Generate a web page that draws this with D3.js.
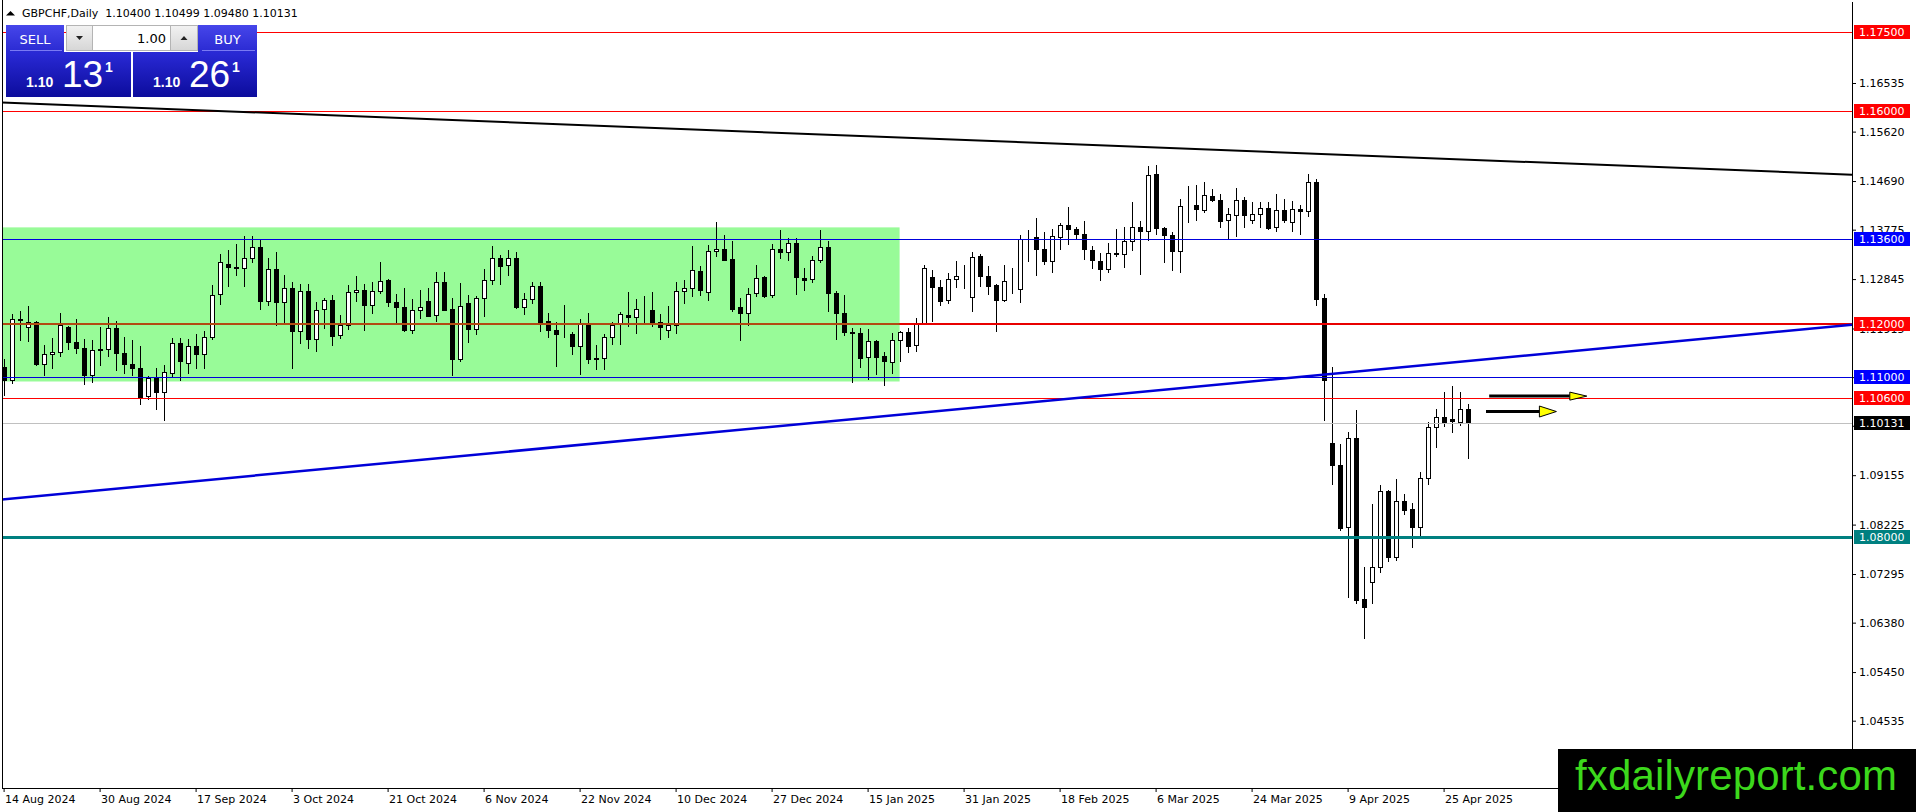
<!DOCTYPE html>
<html>
<head>
<meta charset="utf-8">
<title>GBPCHF,Daily</title>
<script src="https://cdn.jsdelivr.net/npm/d3@7"></script>
<style>
  html, body { margin: 0; padding: 0; background: #fff; overflow: hidden; }
  svg { display: block; }
</style>
</head>
<body>
<script>
const width = 1916;
const height = 812;
const plotLeft = 2, plotRight = 1852, plotBottom = 788;

// one bar per trading day, bar 0 = 14 Aug 2024, last bar = 30 Apr 2025
const opens = [
  1.11200,1.10949,1.12092,1.11941,1.12036,1.11244,1.11433,1.11470,1.11948,1.11665,
  1.11552,1.11037,1.11508,1.11527,1.11929,1.11452,1.11251,1.11175,1.10654,1.10993,
  1.10711,1.11087,1.11646,1.11257,1.11590,1.11433,1.11753,1.12563,1.13135,1.13072,
  1.13053,1.13241,1.13449,1.12425,1.13034,1.12412,1.12676,1.11860,1.12626,1.11709,
  1.12281,1.12456,1.11784,1.11979,1.12601,1.12639,1.12362,1.12620,1.12833,1.12412,
  1.12318,1.11885,1.12268,1.12438,1.12168,1.12789,1.12281,1.11332,1.12394,1.11904,
  1.12482,1.12827,1.13241,1.13110,1.13241,1.12318,1.12469,1.12714,1.12054,1.11891,
  1.11815,1.11810,1.11584,1.12017,1.11357,1.11351,1.11753,1.11998,1.12168,1.12130,
  1.12268,1.12268,1.12036,1.11885,1.11979,1.12626,1.12670,1.13003,1.12601,1.13373,
  1.13411,1.13229,1.12318,1.12205,1.12581,1.12876,1.12537,1.13410,1.13354,1.13523,
  1.12870,1.12845,1.13197,1.13448,1.12581,1.12205,1.11847,1.11828,1.11376,1.11671,
  1.11401,1.11281,1.11696,1.11847,1.11602,1.12016,1.12889,1.12701,1.12449,1.12845,
  1.12902,1.12506,1.13285,1.12908,1.12726,1.12443,1.12663,1.12657,1.13612,1.13637,
  1.13417,1.13178,1.13637,1.13862,1.13793,1.13699,1.13398,1.13190,1.13034,1.13329,
  1.13322,1.13561,1.13825,1.13743,1.14830,1.13806,1.13674,1.13373,1.14220,1.14239,
  1.14151,1.14402,1.14333,1.13950,1.14044,1.14327,1.13950,1.14070,1.14183,1.13818,
  1.14145,1.13919,1.14164,1.14120,1.14679,1.12487,1.09755,1.09347,1.08173,1.09850,
  1.06829,1.07137,1.07420,1.08864,1.07620,1.08675,1.08512,1.08185,1.09096,1.10057,
  1.10258,1.10208,1.10164,1.10400
];
const highs = [
  1.11339,1.12186,1.12249,1.12337,1.12048,1.11609,1.11740,1.12205,1.11960,1.12098,
  1.11709,1.11697,1.11941,1.12130,1.12055,1.11759,1.11703,1.11577,1.11013,1.11175,
  1.11232,1.11740,1.11734,1.11709,1.11810,1.11866,1.12733,1.13317,1.13392,1.13505,
  1.13650,1.13662,1.13587,1.13241,1.13354,1.12927,1.12796,1.12745,1.12758,1.12412,
  1.12488,1.12551,1.12174,1.12739,1.12909,1.12752,1.12783,1.13172,1.12846,1.12563,
  1.12676,1.12469,1.12645,1.12670,1.12984,1.12978,1.12488,1.12777,1.12551,1.12525,
  1.13034,1.13474,1.13304,1.13386,1.13361,1.12583,1.12789,1.12789,1.12205,1.12029,
  1.12356,1.11847,1.12092,1.12205,1.11602,1.11803,1.12029,1.12230,1.12607,1.12475,
  1.12532,1.12607,1.12193,1.12331,1.12783,1.12821,1.13461,1.13084,1.13480,1.13926,
  1.13681,1.13568,1.12488,1.12676,1.13109,1.12908,1.13504,1.13762,1.13618,1.13618,
  1.13052,1.13285,1.13762,1.13555,1.12625,1.12550,1.11922,1.11922,1.11903,1.11702,
  1.11476,1.11828,1.11872,1.11934,1.12110,1.13115,1.13021,1.12832,1.12958,1.13178,
  1.13115,1.13347,1.13322,1.13084,1.12757,1.13109,1.13052,1.13668,1.13775,1.13994,
  1.13731,1.13787,1.13900,1.14202,1.13825,1.13931,1.13473,1.13335,1.13523,1.13787,
  1.13825,1.14289,1.13944,1.14968,1.15000,1.13825,1.13731,1.14352,1.14603,1.14622,
  1.14666,1.14547,1.14453,1.14183,1.14559,1.14390,1.14289,1.14289,1.14289,1.14453,
  1.14352,1.14308,1.14239,1.14830,1.14735,1.12569,1.11187,1.09743,1.09975,1.10383,
  1.07432,1.08612,1.08970,1.08876,1.09077,1.08801,1.08637,1.09209,1.10151,1.10396,
  1.10716,1.10836,1.10716,1.10499
];
const lows = [
  1.10667,1.10886,1.11703,1.11671,1.11232,1.11031,1.11163,1.11389,1.11527,1.11445,
  1.10868,1.10912,1.11232,1.11389,1.11138,1.11075,1.11037,1.10503,1.10585,1.10409,
  1.10196,1.11000,1.10937,1.11087,1.11163,1.11163,1.11709,1.12369,1.12720,1.12927,
  1.12720,1.13160,1.12281,1.12350,1.11979,1.12017,1.11163,1.11634,1.11540,1.11483,
  1.11916,1.11596,1.11728,1.11904,1.12438,1.11879,1.12212,1.12583,1.12331,1.12036,
  1.11866,1.11822,1.12117,1.12143,1.12061,1.12255,1.11031,1.11295,1.11653,1.11810,
  1.12143,1.12745,1.12745,1.12927,1.12300,1.12193,1.12394,1.11860,1.11753,1.11219,
  1.11753,1.11427,1.11056,1.11263,1.11150,1.11150,1.11615,1.11615,1.11955,1.11835,
  1.12017,1.11955,1.11715,1.11747,1.11835,1.12400,1.12532,1.12551,1.12456,1.13285,
  1.13197,1.12237,1.11690,1.11985,1.12518,1.12506,1.12506,1.13241,1.13209,1.12562,
  1.12632,1.12782,1.13159,1.12236,1.11715,1.11784,1.10905,1.11200,1.10974,1.11055,
  1.10854,1.11087,1.11313,1.11482,1.11501,1.11997,1.12048,1.12349,1.12393,1.12688,
  1.12676,1.12236,1.12707,1.12569,1.11872,1.12424,1.12581,1.12406,1.13178,1.12914,
  1.13134,1.12977,1.13417,1.13511,1.13599,1.13228,1.13052,1.12820,1.12971,1.13272,
  1.13065,1.13385,1.12946,1.13586,1.13693,1.13159,1.13008,1.12971,1.13913,1.13963,
  1.14101,1.14308,1.13818,1.13605,1.13649,1.13818,1.13900,1.13825,1.13787,1.13743,
  1.13913,1.13743,1.13693,1.14026,1.12349,1.10195,1.08989,1.08123,1.06854,1.06754,
  1.06100,1.06741,1.07325,1.07545,1.07557,1.08424,1.07796,1.07984,1.08989,1.09693,
  1.10088,1.09975,1.10101,1.09480
];
const closes = [
  1.10949,1.12092,1.12067,1.12036,1.11244,1.11433,1.11470,1.11979,1.11659,1.11540,
  1.11031,1.11508,1.11527,1.11929,1.11445,1.11244,1.11163,1.10616,1.10987,1.10711,
  1.11094,1.11640,1.11295,1.11590,1.11433,1.11759,1.12544,1.13166,1.13072,1.13053,
  1.13241,1.13449,1.12425,1.13034,1.12406,1.12676,1.11860,1.12626,1.11709,1.12268,
  1.12456,1.11766,1.11979,1.12601,1.12639,1.12350,1.12620,1.12814,1.12406,1.12312,
  1.11879,1.12262,1.12312,1.12155,1.12789,1.12268,1.11332,1.12331,1.11898,1.12482,
  1.12827,1.13241,1.13084,1.13241,1.12318,1.12469,1.12714,1.12017,1.11879,1.11810,
  1.11810,1.11577,1.11998,1.11332,1.11339,1.11753,1.11979,1.12186,1.12130,1.12287,
  1.12268,1.12029,1.11935,1.11979,1.12620,1.12676,1.13015,1.12645,1.13380,1.13411,
  1.13210,1.12287,1.12199,1.12570,1.12864,1.12518,1.13410,1.13354,1.13523,1.12883,
  1.12832,1.13197,1.13448,1.12581,1.12205,1.11847,1.11828,1.11369,1.11671,1.11388,
  1.11313,1.11702,1.11847,1.11595,1.12016,1.13052,1.12688,1.12424,1.12845,1.12902,
  1.12908,1.13259,1.12895,1.12707,1.12443,1.12807,1.12657,1.13605,1.13618,1.13404,
  1.13178,1.13655,1.13862,1.13787,1.13693,1.13404,1.13197,1.13027,1.13329,1.13322,
  1.13561,1.13818,1.13743,1.14811,1.13800,1.13668,1.13366,1.14220,1.14227,1.14158,
  1.14428,1.14327,1.13931,1.14063,1.14327,1.14044,1.14070,1.14183,1.13812,1.14145,
  1.13950,1.14164,1.14126,1.14679,1.12474,1.10949,1.09347,1.08167,1.09850,1.06804,
  1.06666,1.07420,1.08864,1.07620,1.08675,1.08499,1.08185,1.09096,1.10057,1.10258,
  1.10151,1.10170,1.10396,1.10131
];

const dateLabels = ['14 Aug 2024', '30 Aug 2024', '17 Sep 2024', '3 Oct 2024', '21 Oct 2024',
  '6 Nov 2024', '22 Nov 2024', '10 Dec 2024', '27 Dec 2024', '15 Jan 2025', '31 Jan 2025',
  '18 Feb 2025', '6 Mar 2025', '24 Mar 2025', '9 Apr 2025', '25 Apr 2025'];
const dateLabelStep = 12; // bars between two date labels

const priceTicks = [1.16535, 1.15620, 1.14690, 1.13775, 1.12845, 1.11915, 1.11000,
  1.10085, 1.09155, 1.08225, 1.07295, 1.06380, 1.05450, 1.04535];

// horizontal levels and the current bid
const levels = [1.17500, 1.16000, 1.13600, 1.12000, 1.11000, 1.10600, 1.08000];
const bid = 1.10131;
const ask = 1.10261;
const lotSize = 1.00;

// range box (bars, prices)
const zoneBars = [0, 112];
const zonePrices = [1.13818, 1.10918];

// trend lines through two (bar, price) points, drawn as rays
const blackTrendBars = [0, 231];
const blackTrendPrices = [1.16167, 1.14811];
const blueTrendBars = [0, 231];
const blueTrendPrices = [1.08702, 1.11986];

// two arrows right of the last bar
const arrowStartBars = [185.7, 185.3];
const arrowEndBars = [197.9, 194.1];
const arrowPrices = [1.10643, 1.10353];

// styles for the levels, same order as levels
const levelStroke = ['#ff0000', '#ff0000', '#0000dd', '#e80000', '#0000dd', '#ff0000', '#008080'];
const levelWidth = [1, 1, 1, 2, 1, 1, 3];
const levelTag = ['#ff0000', '#ff0000', '#0000ff', '#ff0000', '#0000ff', '#ff0000', '#008080'];

const axisFont = '"DejaVu Sans", Verdana, sans-serif';

var svg = d3.select('body').append('svg')
  .attr('width', width)
  .attr('height', height)

svg.append('rect')
  .attr('width', width)
  .attr('height', height)
  .attr('fill', '#fff');

const x = d3.scaleLinear().domain([0, opens.length - 1]).range([3.6, 1467.6]);
const y = d3.scaleLinear().domain([1.04535, 1.16535]).range([720.7, 83]);
const px = v => Math.round(v) + 0.5;

var defs = svg.append('defs');
defs.append('clipPath').attr('id', 'plotClip')
  .append('rect')
  .attr('x', plotLeft)
  .attr('y', 0)
  .attr('width', plotRight - plotLeft)
  .attr('height', plotBottom);

function grad(id, top, bottom) {
  var g = defs.append('linearGradient').attr('id', id)
    .attr('x1', 0).attr('y1', 0).attr('x2', 0).attr('y2', 1);
  g.append('stop').attr('offset', '0%').attr('stop-color', top);
  g.append('stop').attr('offset', '100%').attr('stop-color', bottom);
}
grad('btnGrad', '#4646ea', '#2a2ad2');
grad('priceGrad', '#2a2ad6', '#0c0c9c');
grad('spinGrad', '#f2f2f2', '#d6d6d6');

var chart = svg.append('g').attr('clip-path', 'url(#plotClip)');

// ***** range box *****
chart.append('rect')
  .attr('x', x(zoneBars[0]) - 1)
  .attr('y', y(zonePrices[0]))
  .attr('width', x(zoneBars[1]) - x(zoneBars[0]) + 1)
  .attr('height', y(zonePrices[1]) - y(zonePrices[0]))
  .attr('fill', '#98fb98');

// ***** candles *****
const bars = opens.map((o, i) => ({ i: i, o: o, h: highs[i], l: lows[i], c: closes[i] }));

var candle = chart.append('g').selectAll('g.candle')
  .data(bars)
  .enter().append('g')
  .attr('class', 'candle');

candle.append('line')
  .attr('x1', d => px(x(d.i)))
  .attr('x2', d => px(x(d.i)))
  .attr('y1', d => Math.round(y(d.h)))
  .attr('y2', d => Math.round(y(d.l)) + 1)
  .attr('stroke', '#000')
  .attr('stroke-width', 1);

candle.append('rect')
  .attr('x', d => Math.round(x(d.i)) - 2 + 0.5)
  .attr('y', d => Math.round(y(Math.max(d.o, d.c))) + 0.5)
  .attr('width', 4)
  .attr('height', d => Math.max(0, Math.round(y(Math.min(d.o, d.c))) - Math.round(y(Math.max(d.o, d.c)))))
  .attr('fill', d => d.c > d.o ? '#fff' : '#000')
  .attr('stroke', '#000')
  .attr('stroke-width', 1);

// ***** levels *****
levels.forEach((v, k) => {
  var w = levelWidth[k];
  var yy = w % 2 ? px(y(v)) : Math.round(y(v));
  chart.append('line')
    .attr('x1', plotLeft).attr('x2', plotRight)
    .attr('y1', yy).attr('y2', yy)
    .attr('stroke', levelStroke[k])
    .attr('stroke-width', w);
  // the red line takes a brown tint where it crosses the range box
  if (v < zonePrices[0] && v > zonePrices[1] && levelStroke[k] !== '#0000dd') {
    chart.append('line')
      .attr('x1', x(zoneBars[0]) - 1).attr('x2', x(zoneBars[1]))
      .attr('y1', yy).attr('y2', yy)
      .attr('stroke', '#b24a12')
      .attr('stroke-width', w);
  }
});

chart.append('line')
  .attr('x1', plotLeft).attr('x2', plotRight)
  .attr('y1', px(y(bid))).attr('y2', px(y(bid)))
  .attr('stroke', '#c0c0c0')
  .attr('stroke-width', 1);

// ***** trend lines *****
function ray(barsPair, pricesPair, color, w) {
  var at = b => pricesPair[0] + (pricesPair[1] - pricesPair[0]) * (b - barsPair[0]) / (barsPair[1] - barsPair[0]);
  var b0 = x.invert(plotLeft - 2), b1 = x.invert(plotRight);
  chart.append('line')
    .attr('x1', x(b0)).attr('y1', y(at(b0)))
    .attr('x2', x(b1)).attr('y2', y(at(b1)))
    .attr('stroke', color)
    .attr('stroke-width', w);
}
ray(blackTrendBars, blackTrendPrices, '#000', 2);
ray(blueTrendBars, blueTrendPrices, '#0000d8', 2.5);

// ***** arrows *****
const headLen = 17;
const headHalf = [4, 5.5];
arrowPrices.forEach((v, k) => {
  var yy = y(v), xs = x(arrowStartBars[k]), xe = x(arrowEndBars[k]);
  chart.append('line')
    .attr('x1', xs).attr('x2', xe - headLen)
    .attr('y1', yy).attr('y2', yy)
    .attr('stroke', '#000')
    .attr('stroke-width', 3);
  chart.append('path')
    .attr('d', `M${xe - headLen},${yy - headHalf[k]}L${xe},${yy}L${xe - headLen},${yy + headHalf[k]}Z`)
    .attr('fill', '#ffff00')
    .attr('stroke', '#000')
    .attr('stroke-width', 1);
});

// ***** frame *****
svg.append('line')
  .attr('x1', plotLeft + 0.5).attr('x2', plotLeft + 0.5)
  .attr('y1', 0).attr('y2', plotBottom + 1)
  .attr('stroke', '#000');
svg.append('line')
  .attr('x1', plotLeft).attr('x2', plotRight + 1)
  .attr('y1', plotBottom + 0.5).attr('y2', plotBottom + 0.5)
  .attr('stroke', '#000');
svg.append('line')
  .attr('x1', plotRight + 0.5).attr('x2', plotRight + 0.5)
  .attr('y1', 2).attr('y2', plotBottom + 1)
  .attr('stroke', '#000');

// ***** axes *****
const xAxis = d3.axisBottom(x)
  .tickValues(dateLabels.map((d, k) => k * dateLabelStep))
  .tickFormat((d, k) => dateLabels[k])
  .tickSize(4)
  .tickPadding(3);

svg.append('g')
  .attr('transform', `translate(0,${plotBottom})`)
  .call(xAxis)
  .call(g => g.select('.domain').remove())
  .attr('font-family', axisFont)
  .attr('font-size', 11)
  .call(g => g.selectAll('text').attr('text-anchor', 'start').attr('x', 1).attr('fill', '#000'));

const yAxis = d3.axisRight(y)
  .tickValues(priceTicks)
  .tickFormat(d3.format('.5f'))
  .tickSize(4)
  .tickPadding(3);

svg.append('g')
  .attr('transform', `translate(${plotRight},0)`)
  .call(yAxis)
  .call(g => g.select('.domain').remove())
  .attr('font-family', axisFont)
  .attr('font-size', 11)
  .call(g => g.selectAll('text').attr('fill', '#000'));

// ***** price tags on the right scale *****
const tags = levels.map((v, k) => ({ v: v, color: levelTag[k] })).concat([{ v: bid, color: '#000' }]);
var tag = svg.append('g').selectAll('g.tag')
  .data(tags)
  .enter().append('g')
  .attr('class', 'tag');
tag.append('rect')
  .attr('x', plotRight + 2)
  .attr('y', d => Math.round(y(d.v)) - 7)
  .attr('width', 56)
  .attr('height', 14)
  .attr('fill', d => d.color);
tag.append('text')
  .attr('x', plotRight + 7)
  .attr('y', d => y(d.v))
  .attr('dy', '0.36em')
  .attr('font-family', axisFont)
  .attr('font-size', 11)
  .attr('fill', '#fff')
  .text(d => d3.format('.5f')(d.v));

// ***** header *****
svg.append('path')
  .attr('d', 'M6,15.5L10.5,11L15,15.5Z')
  .attr('fill', '#000');
svg.append('text')
  .attr('x', 22)
  .attr('y', 17)
  .attr('font-family', axisFont)
  .attr('font-size', 11)
  .attr('fill', '#000')
  .text(`GBPCHF,Daily  ${d3.format('.5f')(opens[opens.length - 1])} ${d3.format('.5f')(highs[highs.length - 1])} ${d3.format('.5f')(lows[lows.length - 1])} ${d3.format('.5f')(closes[closes.length - 1])}`)
  .attr('xml:space', 'preserve')
  .style('white-space', 'pre');

// ***** one click trading panel *****
var panel = svg.append('g').attr('font-family', '"Liberation Sans", Arial, sans-serif');

function button(x0, w, label) {
  panel.append('rect').attr('x', x0).attr('y', 25).attr('width', w).attr('height', 27)
    .attr('fill', 'url(#btnGrad)');
  panel.append('line').attr('x1', x0 + 4).attr('x2', x0 + w - 2).attr('y1', 50.5).attr('y2', 50.5)
    .attr('stroke', '#7a7af4');
  panel.append('text').attr('x', x0 + w / 2).attr('y', 43.5)
    .attr('text-anchor', 'middle')
    .attr('font-family', axisFont)
    .attr('font-size', 13)
    .attr('fill', '#fff')
    .text(label);
}
button(6, 58, 'SELL');
button(198, 59, 'BUY');

panel.append('rect').attr('x', 66.5).attr('y', 25.5).attr('width', 131).attr('height', 25)
  .attr('fill', 'url(#spinGrad)').attr('stroke', '#b4b4b4');
panel.append('rect').attr('x', 92.5).attr('y', 25.5).attr('width', 78).attr('height', 25)
  .attr('fill', '#fff').attr('stroke', '#b4b4b4');
panel.append('path').attr('d', 'M76,36L83,36L79.5,40Z').attr('fill', '#222');
panel.append('path').attr('d', 'M180.5,40L187.5,40L184,36Z').attr('fill', '#222');
panel.append('text').attr('x', 166).attr('y', 43)
  .attr('text-anchor', 'end')
  .attr('font-family', axisFont)
  .attr('font-size', 13)
  .attr('fill', '#000')
  .text(d3.format('.2f')(lotSize));

function quote(x0, w, price) {
  var s = d3.format('.5f')(price);
  panel.append('rect').attr('x', x0).attr('y', 52).attr('width', w).attr('height', 45)
    .attr('fill', 'url(#priceGrad)');
  panel.append('text').attr('x', x0 + 20).attr('y', 87)
    .attr('font-size', 14).attr('font-weight', 'bold').attr('fill', '#fff')
    .text(s.slice(0, 4));
  panel.append('text').attr('x', x0 + 56).attr('y', 87)
    .attr('font-size', 37).attr('fill', '#fff')
    .text(s.slice(4, 6));
  panel.append('text').attr('x', x0 + 99).attr('y', 72)
    .attr('font-size', 14).attr('font-weight', 'bold').attr('fill', '#fff')
    .text(s.slice(6));
}
quote(6, 125, bid);
quote(133, 124, ask);

// ***** watermark *****
svg.append('rect')
  .attr('x', 1558)
  .attr('y', 749)
  .attr('width', width - 1558)
  .attr('height', height - 749)
  .attr('fill', '#000');
svg.append('text')
  .attr('x', 1575)
  .attr('y', 790)
  .attr('font-family', '"Liberation Sans", Arial, sans-serif')
  .attr('font-size', 42)
  .attr('textLength', 322)
  .attr('fill', '#3cd81c')
  .text('fxdailyreport.com');
</script>
</body>
</html>
